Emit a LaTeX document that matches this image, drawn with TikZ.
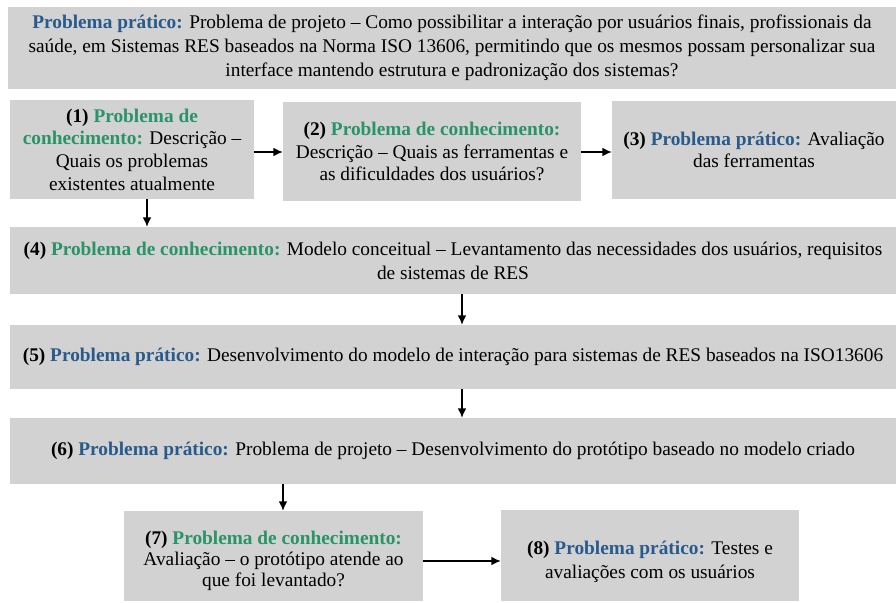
\documentclass[tikz,border=0pt]{standalone}
\usepackage{fontspec}
\setmainfont{Liberation Serif}
\usetikzlibrary{arrows.meta}
\definecolor{boxgray}{RGB}{210,210,210}
\definecolor{blueT}{RGB}{40,90,140}
\definecolor{greenT}{RGB}{40,148,104}
\tikzset{
  box/.style={rectangle, fill=boxgray, inner sep=0pt, align=center,
    font=\fontsize{14.5pt}{18pt}\selectfont},
  txt/.style={inner sep=0pt, align=center},
  arr/.style={-{Latex[length=7pt,width=6.5pt]}, line width=0.9pt, black},
}
\newcommand{\pb}[1]{\textbf{\color{blueT}#1}}
\newcommand{\pg}[1]{\textbf{\color{greenT}#1}}
\begin{document}
\begin{tikzpicture}[x=0.75pt,y=-0.75pt]
\useasboundingbox (0,0) rectangle (896,603);
\node[box, minimum width=888*0.75pt, minimum height=82*0.75pt] (top) at (452,48)
 {\pb{Problema prático:} Problema de projeto -- Como possibilitar a interação por usuários finais, profissionais da\\
 saúde, em Sistemas RES baseados na Norma ISO 13606, permitindo que os mesmos possam personalizar sua\\
 interface mantendo estrutura e padronização dos sistemas?};
\node[box, font=\fontsize{14.5pt}{17pt}\selectfont, minimum width=244*0.75pt, minimum height=99*0.75pt] (b1) at (132,149.5)
 {\textbf{(1)} \pg{Problema de}\\ \pg{conhecimento:} Descrição --\\ Quais os problemas\\ existentes atualmente};
\node[box, font=\fontsize{14.5pt}{17pt}\selectfont, minimum width=298*0.75pt, minimum height=99*0.75pt] (b2) at (432,151.5)
 {\textbf{(2)} \pg{Problema de conhecimento:}\\ Descrição -- Quais as ferramentas e\\ as dificuldades dos usuários?};
\node[box, font=\fontsize{14.5pt}{16.5pt}\selectfont, minimum width=284*0.75pt, minimum height=98*0.75pt] (b3) at (754,150)
 {\textbf{(3)} \pb{Problema prático:} Avaliação\\ das ferramentas};
\node[box, minimum width=886*0.75pt, minimum height=67*0.75pt] (b4) at (453,260.5)
 {\textbf{(4)} \pg{Problema de conhecimento:} Modelo conceitual -- Levantamento das necessidades dos usuários, requisitos\\ de sistemas de RES};
\node[box, minimum width=886*0.75pt, minimum height=64*0.75pt] (b5) at (453,357)
 {\textbf{(5)} \pb{Problema prático:} Desenvolvimento do modelo de interação para sistemas de RES baseados na ISO13606};
\node[box, minimum width=886*0.75pt, minimum height=66*0.75pt] (b6) at (453,451)
 {\textbf{(6)} \pb{Problema prático:} Problema de projeto -- Desenvolvimento do protótipo baseado no modelo criado};
\node[box, minimum width=299*0.75pt, minimum height=90*0.75pt] (b7) at (273.5,556) {};
\node[txt, font=\fontsize{14.5pt}{15.8pt}\selectfont] (t7) at (273.5,561)
 {\textbf{(7)} \pg{Problema de conhecimento:}\\ Avaliação -- o protótipo atende ao\\ que foi levantado?};
\node[box, minimum width=298*0.75pt, minimum height=91*0.75pt] (b8) at (650,555.5) {};
\node[txt, font=\fontsize{14.5pt}{18pt}\selectfont] (t8) at (650,562)
 {\textbf{(8)} \pb{Problema prático:} Testes e\\ avaliações com os usuários};
\coordinate (c1) at (147,0);
\coordinate (c2) at (462,0);
\coordinate (c3) at (283,0);
\coordinate (c4) at (0,561);
\coordinate (c5) at (0,152);
\draw[arr] (b1.east |- c5) -- (b2.west |- c5);
\draw[arr] (b2.east |- c5) -- (b3.west |- c5);
\draw[arr] (b1.south -| c1) -- (b4.north -| c1);
\draw[arr] (b4.south -| c2) -- (b5.north -| c2);
\draw[arr] (b5.south -| c2) -- (b6.north -| c2);
\draw[arr] (b6.south -| c3) -- (b7.north -| c3);
\draw[arr] (b7.east |- c4) -- (b8.west |- c4);
\end{tikzpicture}
\end{document}
